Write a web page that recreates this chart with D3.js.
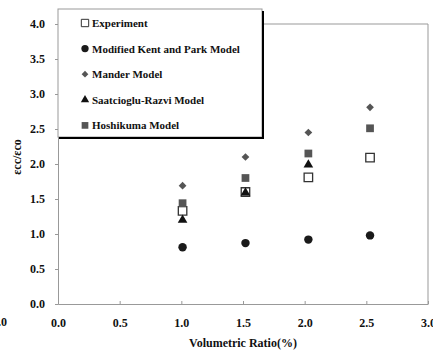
<!DOCTYPE html>
<html lang="en">
<head>
<meta charset="utf-8">
<title>Volumetric Ratio vs strain ratio</title>
<script src="https://cdn.jsdelivr.net/npm/d3@7/dist/d3.min.js"></script>
<style>
  body { margin: 0; background: #fff; }
</style>
</head>
<body>
<script>
// data
var ratios = [1.01, 1.52, 2.03, 2.53];
var experiment = [1.33, 1.60, 1.81, 2.09];
var kentPark = [0.81, 0.87, 0.92, 0.98];
var mander = [1.69, 2.10, 2.45, 2.81];
var saatcioglu = [1.20, 1.59, 1.99, null];
var hoshikuma = [1.44, 1.80, 2.15, 2.51];
var xTicks = [0, 0.5, 1.0, 1.5, 2.0, 2.5, 3.0];
var yTicks = [0, 0.5, 1.0, 1.5, 2.0, 2.5, 3.0, 3.5, 4.0];

var w = 433, h = 356;
var margin = { top: 24, right: 5, bottom: 52, left: 58 };
var serif = "'Liberation Serif', 'Times New Roman', serif";

var svg = d3.select("body").append("svg")
  .attr("width", w)
  .attr("height", h)
  .style("font-family", serif)
  .style("font-weight", "bold");

var x = d3.scaleLinear().domain([0, 3]).range([margin.left, w - margin.right]);
var y = d3.scaleLinear().domain([0, 4]).range([h - margin.bottom, margin.top]);

// plot border (top and right)
svg.append("path")
  .attr("d", "M" + x(0) + "," + y(4) + "H" + x(3) + "V" + y(0))
  .attr("fill", "none")
  .attr("stroke", "#999")
  .attr("stroke-width", 1);

var fmt = d3.format(".1f");

var xAxis = svg.append("g")
  .attr("transform", "translate(0," + y(0) + ")")
  .call(d3.axisBottom(x).tickValues(xTicks).tickFormat(fmt).tickSizeInner(-3).tickSizeOuter(0).tickPadding(14));
xAxis.attr("font-family", null).attr("font-size", null);
xAxis.select(".domain").attr("stroke", "#999");
xAxis.selectAll(".tick line").attr("stroke", "#999");
xAxis.selectAll("text").style("font-size", "12px").attr("fill", "#111");

var yAxis = svg.append("g")
  .attr("transform", "translate(" + x(0) + ",0)")
  .call(d3.axisLeft(y).tickValues(yTicks).tickFormat(fmt).tickSize(3).tickPadding(10));
yAxis.attr("font-family", null).attr("font-size", null);
yAxis.select(".domain").attr("stroke", "#999");
yAxis.selectAll(".tick line").attr("stroke", "#999");
yAxis.selectAll("text").style("font-size", "12px").attr("fill", "#111");

// cut-off label from the neighbouring chart
svg.append("text")
  .attr("x", 7).attr("y", y(0) + 22)
  .attr("text-anchor", "end")
  .attr("fill", "#111")
  .style("font-size", "12px")
  .text("3.0");

// axis titles
svg.append("text")
  .attr("x", 243).attr("y", 347)
  .attr("text-anchor", "middle")
  .attr("fill", "#111")
  .style("font-size", "12px")
  .text("Volumetric Ratio(%)");

svg.append("text")
  .attr("transform", "translate(21,157) rotate(-90)")
  .attr("text-anchor", "middle")
  .attr("fill", "#111")
  .style("font-size", "12px")
  .text("εcc/εco");

// series definitions
var series = [
  { name: "Experiment", values: experiment, shape: d3.symbolSquare, size: 72, rot: 0, fill: "#fff", stroke: "#333" },
  { name: "Modified Kent and Park Model", values: kentPark, shape: d3.symbolCircle, size: 56, rot: 0, fill: "#1a1a1a", stroke: "none" },
  { name: "Mander Model", values: mander, shape: d3.symbolSquare, size: 30, rot: 45, fill: "#555", stroke: "none" },
  { name: "Saatcioglu-Razvi Model", values: saatcioglu, shape: d3.symbolTriangle, size: 40, rot: 0, fill: "#111", stroke: "none" },
  { name: "Hoshikuma Model", values: hoshikuma, shape: d3.symbolSquare, size: 60, rot: 0, fill: "#555", stroke: "none" }
];

var sym = d3.symbol();

series.forEach(function(s) {
  var pts = ratios.map(function(r, i) { return { x: r, y: s.values[i] }; })
    .filter(function(d) { return d.y != null; });
  svg.append("g").selectAll("path")
    .data(pts)
    .enter()
    .append("path")
    .attr("transform", function(d) { return "translate(" + x(d.x) + "," + y(d.y) + ") rotate(" + s.rot + ")"; })
    .attr("d", sym.type(s.shape).size(s.size)())
    .attr("fill", s.fill)
    .attr("stroke", s.stroke)
    .attr("stroke-width", 1.3);
});

// legend box with shadow
var lx = 58, ly = 9, lw = 204, lh = 128;
var legend = svg.append("g");
legend.append("rect")
  .attr("x", lx).attr("y", ly)
  .attr("width", lw).attr("height", lh)
  .attr("fill", "#fff")
  .attr("stroke", "#999")
  .attr("stroke-width", 1);
legend.append("path")
  .attr("d", "M" + (lx + lw + 1) + "," + (ly + 2) + "V" + (ly + lh + 1) + "H" + (lx + 1))
  .attr("fill", "none")
  .attr("stroke", "#000")
  .attr("stroke-width", 2);

series.forEach(function(s, i) {
  var yy = 23 + i * 25.6;
  legend.append("path")
    .attr("transform", "translate(85," + yy + ") rotate(" + s.rot + ")")
    .attr("d", sym.type(s.shape).size(s.size * 0.75)())
    .attr("fill", s.fill)
    .attr("stroke", s.stroke)
    .attr("stroke-width", 1);
  legend.append("text")
    .attr("x", 92).attr("y", yy + 4)
    .attr("fill", "#111")
    .style("font-size", "11px")
    .text(s.name);
});
</script>
</body>
</html>
